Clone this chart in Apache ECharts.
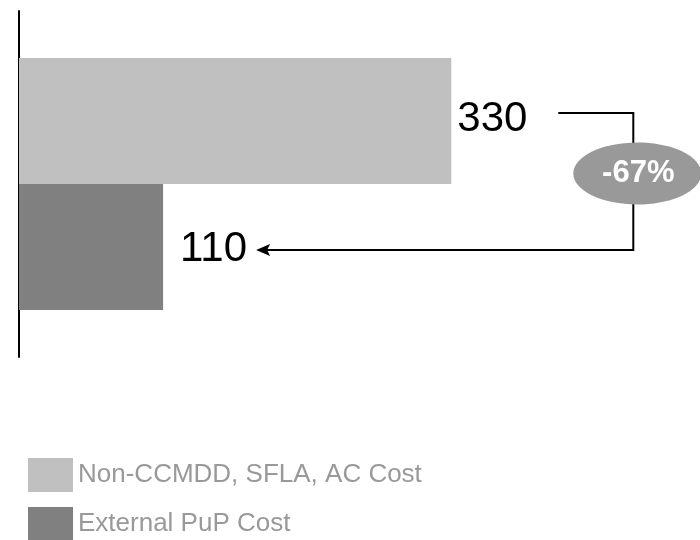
<!DOCTYPE html>
<html>
<head>
<meta charset="utf-8">
<script src="https://cdn.jsdelivr.net/npm/echarts@6/dist/echarts.min.js"></script>
<style>
  html, body { margin: 0; padding: 0; background: #fff; }
  #chart { width: 700px; height: 540px; }
</style>
</head>
<body>
<div id="chart"></div>
<script>
const categories = ['Cost']
const seriesNames = ['Non-CCMDD, SFLA, AC Cost', 'External PuP Cost']
const nonCcmddValues = [330]
const externalPupValues = [110]
const changeLabel = '-67%'

const font = '"Liberation Sans", Arial, sans-serif'
const chart = echarts.init(document.getElementById('chart'))

chart.setOption({
  animation: false,
  grid: { left: 19, right: 26, top: 11, height: 346 },
  legend: {
    left: 28,
    top: 458,
    height: 90,
    orient: 'vertical',
    itemWidth: 45,
    itemHeight: 34,
    itemGap: 15,
    padding: 0,
    icon: 'rect',
    textStyle: { color: '#999', fontSize: 26, fontFamily: font },
    data: seriesNames,
  },
  xAxis: { type: 'value', min: 0, max: 500, show: false },
  yAxis: {
    type: 'category',
    inverse: true,
    data: categories,
    axisLine: { show: true, lineStyle: { color: '#000', width: 2 } },
    axisTick: { show: false },
    axisLabel: { show: false },
  },
  series: [
    {
      name: seriesNames[0],
      type: 'bar',
      data: nonCcmddValues,
      barWidth: 126,
      barGap: '0%',
      itemStyle: { color: '#c0c0c0' },
      label: { show: true, position: 'right', distance: 6, color: '#000', fontSize: 42, fontFamily: font, offset: [0, -2] },
    },
    {
      name: seriesNames[1],
      type: 'bar',
      data: externalPupValues,
      barWidth: 126,
      itemStyle: { color: '#808080' },
      label: { show: true, position: 'right', distance: 17, color: '#000', fontSize: 42, fontFamily: font, offset: [0, 2] },
    },
  ],
})

// annotation arrow tied to the bar layout
const topBar = chart.getModel().getSeriesByIndex(0).getData().getItemLayout(0)
const lowBar = chart.getModel().getSeriesByIndex(1).getData().getItemLayout(0)
const y1 = topBar.y + topBar.height / 2 - 8
const y2 = lowBar.y + lowBar.height / 2 + 3
const xStart = topBar.x + topBar.width + 107
const xTurn = topBar.x + topBar.width + 182
const xTip = lowBar.x + lowBar.width + 93

chart.setOption({
  graphic: [
    {
      type: 'polyline',
      shape: { points: [[xStart, y1], [xTurn, y1], [xTurn, y2], [xTip + 10, y2]] },
      style: { stroke: '#000', lineWidth: 2, fill: null },
    },
    {
      type: 'polygon',
      shape: { points: [[xTip, y2], [xTip + 14, y2 - 6], [xTip + 11, y2], [xTip + 14, y2 + 6]] },
      style: { fill: '#000' },
    },
    {
      type: 'ellipse',
      shape: { cx: xTurn + 4, cy: (y1 + y2) / 2 - 8, rx: 64, ry: 31 },
      style: { fill: '#999999' },
    },
    {
      type: 'text',
      x: xTurn + 5,
      y: (y1 + y2) / 2 - 8,
      style: {
        text: changeLabel,
        fill: '#fff',
        font: 'bold 31px ' + font,
        align: 'center',
        verticalAlign: 'middle',
      },
    },
  ],
})
</script>
</body>
</html>
